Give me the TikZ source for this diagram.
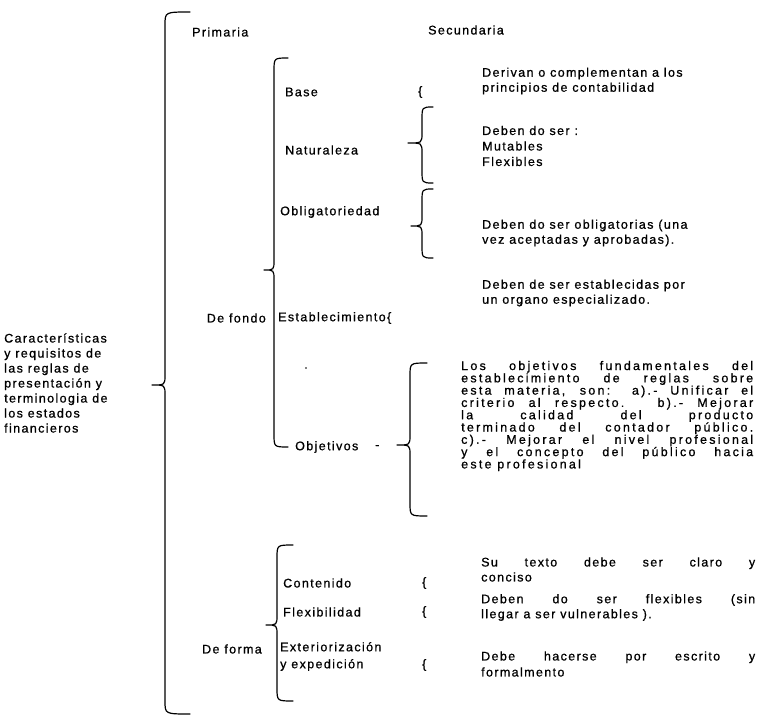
\documentclass[tikz,border=0pt]{standalone}
\usepackage{fontspec}
\setmainfont{Liberation Sans}[LetterSpace=11,FakeBold=0.8]
\newcommand\mybrace[6]{% #1 xv, #2 ytop, #3 ybot, #4 xtail, #5 cusp x, #6 cusp y
  \draw[brc] (#4,#2) .. controls (#1,#2) .. (#1,#2+13) -- (#1,#6-10)
    .. controls (#1,#6) .. (#5,#6) .. controls (#1,#6) .. (#1,#6+10)
    -- (#1,#3-13) .. controls (#1,#3) .. (#4,#3);}
\newcommand\jlo[1]{\makebox[292pt][s]{#1}}
\newcommand\jll[1]{\makebox[274pt][s]{#1}}
\begin{document}
\begin{tikzpicture}[x=1pt,y=-1pt,
  txt/.style={inner sep=0pt, anchor=west, align=left, font=\fontsize{12.5}{15}\selectfont},
  txte/.style={txt, anchor=east},
  brc/.style={line width=1.2pt, line cap=round, line join=round}]
\useasboundingbox (0,0) rectangle (760,719);

% main brace
\mybrace{165}{12}{714}{190}{152}{385}
% De fondo brace
\mybrace{274}{58}{447}{288}{264}{270}
% Naturaleza brace
\mybrace{422}{107}{183}{433}{408}{143}
% Obligatoriedad brace
\mybrace{422}{189}{258}{433}{411}{226}
% Objetivos brace
\mybrace{410}{363}{516}{427}{397}{445}
% De forma brace
\mybrace{277}{545}{701}{293}{266}{625}

\node[txt] (carac) at (4,383) {Características\\y requisitos de\\las reglas de\\presentación y\\terminologia de\\los estados\\financieros};
\node[txt] (prim) at (192,32) {Primaria};
\node[txt] (sec) at (428,30) {Secundaria};

\node[txt] (base) at (285,92) {Base};
\node[txt] (bbase) at (418,92) {\{};
\node[txt] (tbase) at (482,81) {Derivan o complementan a los\\principios de contabilidad};

\node[txt] (nat) at (285,150) {Naturaleza};
\node[txt, font=\fontsize{12.5}{15.5}\selectfont] (tnat) at (482,146) {Deben do ser :\\Mutables\\Flexibles};

\node[txt] (obl) at (280,212) {Obligatoriedad};
\node[txt] (tobl) at (482,233) {Deben do ser obligatorias (una\\vez aceptadas y aprobadas).};

\node[txte] (fondo) at (266,318) {De fondo};
\node[txt] (est) at (278,318) {Establecimiento\{};
\node[txt] (test) at (482,293) {Deben de ser establecidas por\\un organo especializado.};

\fill (306,368) circle (0.9);

\node[txt] (obj) at (295,447) {Objetivos};
\node[txt] (dash) at (375,447) {-};
\node[txt, font=\fontsize{12.5}{12.3}\selectfont\addfontfeatures{LetterSpace=18}] (tobj) at (461,416) {\jlo{Los objetivos fundamentales del}\\\jlo{establecimiento de reglas sobre}\\\jlo{esta materia, son: a).- Unificar el}\\\jlo{criterio al respecto. b).- Mejorar}\\\jlo{la calidad del producto}\\\jlo{terminado del contador público.}\\\jlo{c).- Mejorar el nivel profesional}\\\jlo{y el concepto del público hacia}\\este profesional};

\node[txte] (forma) at (262,649) {De forma};

\node[txt] (cont) at (283,583) {Contenido};
\node[txt] (bcont) at (422,583) {\{};
\node[txt] (tcont) at (481,569.5) {\jll{Su texto debe ser claro y}\\conciso};

\node[txt] (flex) at (283,612) {Flexibilidad};
\node[txt] (bflex) at (422,612) {\{};
\node[txt] (tflex) at (481,607.5) {\jll{Deben do ser flexibles (sin}\\llegar a ser vulnerables ).};

\node[txt, font=\fontsize{12.5}{17}\selectfont] (ext) at (280,656.5) {Exteriorización\\y expedición};
\node[txt] (bext) at (422,665) {\{};
\node[txt, font=\fontsize{12.5}{16}\selectfont] (text) at (481,664) {\jll{Debe hacerse por escrito y}\\formalmento};
\end{tikzpicture}
\end{document}
